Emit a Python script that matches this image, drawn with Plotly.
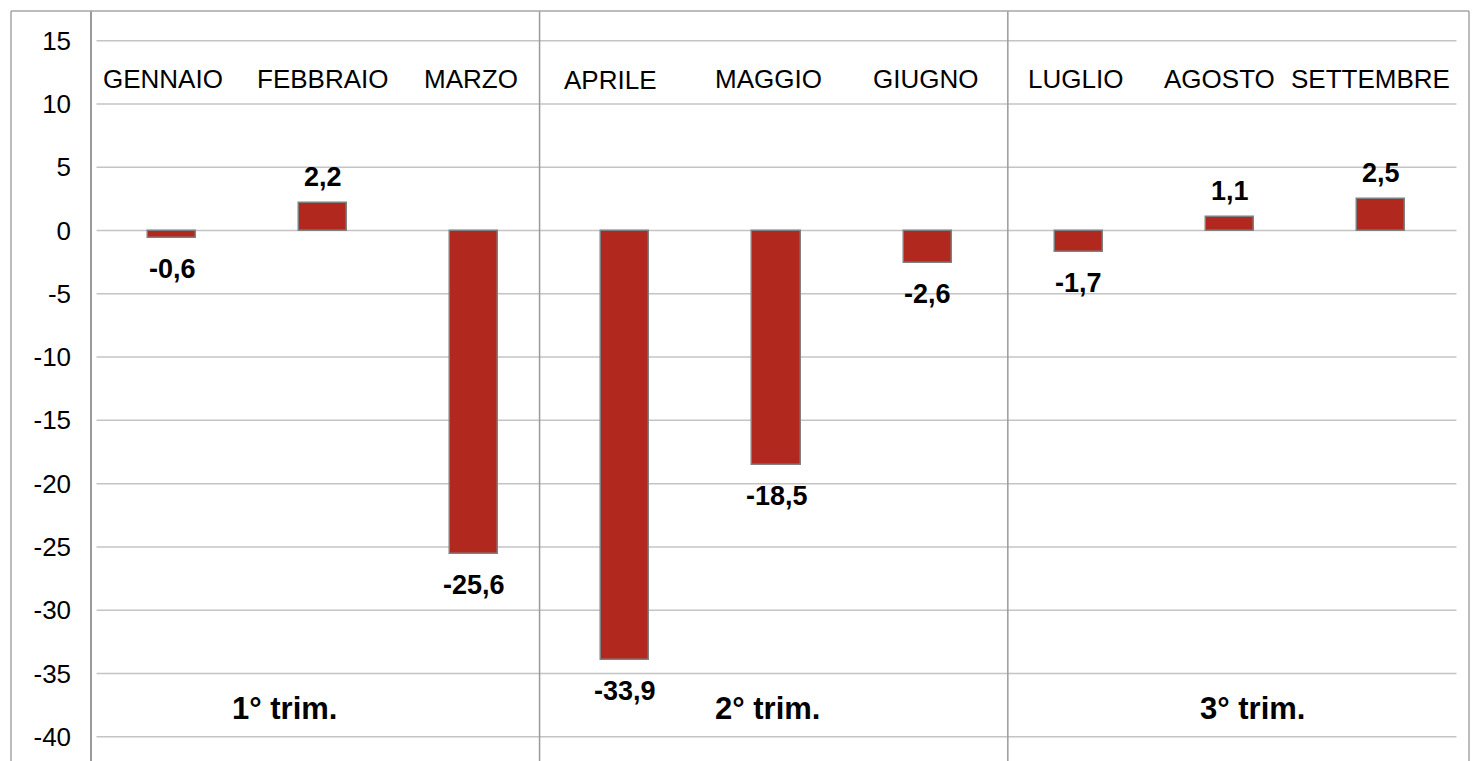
import plotly.graph_objects as go

# monthly change, first three quarters
months = ["GENNAIO", "FEBBRAIO", "MARZO", "APRILE", "MAGGIO", "GIUGNO",
          "LUGLIO", "AGOSTO", "SETTEMBRE"]
values = [-0.6, 2.2, -25.6, -33.9, -18.5, -2.6, -1.7, 1.1, 2.5]
quarters = ["1° trim.", "2° trim.", "3° trim."]
y_ticks = [15, 10, 5, 0, -5, -10, -15, -20, -25, -30, -35, -40]

FONT = "Liberation Sans, Arial, sans-serif"
BAR_RED = "#b0281e"
GRID = "#c4c4c4"
FRAME = "#a6a6a6"

# little horizontal nudges (px) of the month text boxes
month_nudge = [-9, -1, -3, -15, -8, -2, -3, -10, -10]
quarter_x = [0.745, 3.94, 7.15]
separators_x = [2.432, 5.531]

fig = go.Figure()
fig.add_trace(go.Bar(
    x=months, y=values, width=0.318,
    marker=dict(color=BAR_RED, line=dict(color="#808080", width=1.5)),
    hoverinfo="skip", showlegend=False,
))

shapes = []
# gridlines (they stop short of the frame, like the original)
for t in y_ticks:
    shapes.append(dict(type="line", xref="x", yref="y", x0=-0.5, x1=8.5, y0=t, y1=t,
                       line=dict(color=GRID, width=1.5), layer="below"))
# quarter separators
for sx in separators_x:
    shapes.append(dict(type="line", xref="x", yref="paper", x0=sx, x1=sx, y0=0, y1=1,
                       line=dict(color="#9a9a9a", width=1.5)))
# outer frame
fx = (11 - 92) / 1377
shapes.append(dict(type="line", xref="paper", yref="paper", x0=fx, x1=fx, y0=0, y1=1,
                   line=dict(color=FRAME, width=1.5)))
shapes.append(dict(type="line", xref="paper", yref="paper", x0=fx, x1=1, y0=1, y1=1,
                   line=dict(color=FRAME, width=1.5)))
shapes.append(dict(type="line", xref="paper", yref="paper", x0=1, x1=1, y0=0, y1=1,
                   line=dict(color=FRAME, width=1.5)))

annotations = []
for m, v in zip(months, values):
    annotations.append(dict(
        x=m, y=v, xref="x", yref="y", showarrow=False,
        text="<b>" + f"{v:.1f}".replace(".", ",") + "</b>",
        yshift=26 if v > 0 else -31,
        font=dict(family=FONT, size=27, color="#000000")))
for m, dx in zip(months, month_nudge):
    annotations.append(dict(
        x=m, y=12, xref="x", yref="y", showarrow=False, text=m, xshift=dx,
        yshift=-1.5 if m == "APRILE" else 0,
        font=dict(family=FONT, size=26, color="#000000")))
for q, qx in zip(quarters, quarter_x):
    annotations.append(dict(
        x=qx, y=-37.77, xref="x", yref="y", showarrow=False, text="<b>" + q + "</b>",
        font=dict(family=FONT, size=31, color="#000000")))

fig.update_layout(
    width=1472, height=761, autosize=False,
    margin=dict(l=92, r=3, t=11, b=0, pad=0),
    paper_bgcolor="white", plot_bgcolor="white",
    shapes=shapes, annotations=annotations,
    bargap=0, showlegend=False,
    font=dict(family=FONT, size=26, color="#000000"),
)
fig.update_xaxes(range=[-0.53, 8.583], showticklabels=False, showgrid=False,
                 zeroline=False, showline=False, fixedrange=True)
fig.update_yaxes(range=[-41.92, 17.35], tickvals=y_ticks, ticktext=[str(t) for t in y_ticks],
                 showgrid=False, zeroline=False, showline=True, linecolor="#9a9a9a", linewidth=1.5,
                 ticks="", ticklabelstandoff=14, tickfont=dict(family=FONT, size=26, color="#000000"),
                 fixedrange=True)

fig.write_html("out.html", config={"displayModeBar": False},
               post_script="document.body.style.margin='0';document.body.style.overflow='hidden';")
